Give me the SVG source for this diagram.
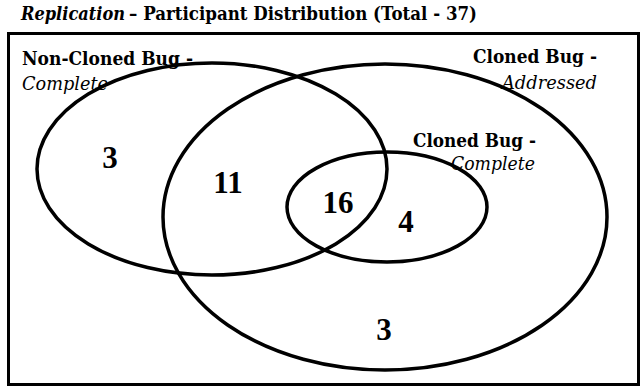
<svg xmlns="http://www.w3.org/2000/svg" width="642" height="388" viewBox="0 0 642 388">
<style>
.t{font-family:"DejaVu Serif",serif;font-weight:bold;font-size:18.5px;fill:#000}
.i{font-family:"DejaVu Serif",serif;font-style:italic;font-size:18.5px;fill:#000}
.n{font-family:"Liberation Serif",serif;font-weight:bold;font-size:31px;fill:#000;text-anchor:middle}
.e{fill:none;stroke:#000;stroke-width:3.5}
</style>
<rect width="642" height="388" fill="#fff"/>
<g id="title">
<text class="t" x="21" y="20" font-style="italic" textLength="104" lengthAdjust="spacingAndGlyphs">Replication</text>
<text class="t" x="129" y="20" textLength="348" lengthAdjust="spacingAndGlyphs">– Participant Distribution (Total - 37)</text>
</g>
<rect x="8.5" y="33.5" width="630" height="351" fill="none" stroke="#000" stroke-width="3"/>
<g id="non-cloned-complete">
<ellipse class="e" cx="212" cy="169" rx="175" ry="106"/>
<text class="t" x="22" y="65" textLength="171" lengthAdjust="spacingAndGlyphs">Non-Cloned Bug -</text>
<text class="i" x="22" y="90" textLength="86" lengthAdjust="spacingAndGlyphs">Complete</text>
<text class="n" x="110" y="168">3</text>
</g>
<g id="cloned-addressed">
<ellipse class="e" cx="385" cy="217" rx="222" ry="153"/>
<text class="t" x="473" y="63" textLength="124" lengthAdjust="spacingAndGlyphs">Cloned Bug -</text>
<text class="i" x="502" y="89" textLength="95" lengthAdjust="spacingAndGlyphs">Addressed</text>
<text class="n" x="384" y="340">3</text>
</g>
<g id="cloned-complete">
<ellipse class="e" cx="387" cy="207" rx="100" ry="55"/>
<text class="t" x="413" y="147" textLength="123" lengthAdjust="spacingAndGlyphs">Cloned Bug -</text>
<text class="i" x="451" y="170" textLength="84" lengthAdjust="spacingAndGlyphs">Complete</text>
<text class="n" x="406" y="232">4</text>
</g>
<g id="overlaps">
<text class="n" x="228" y="193">11</text>
<text class="n" x="338" y="213">16</text>
</g>
</svg>
